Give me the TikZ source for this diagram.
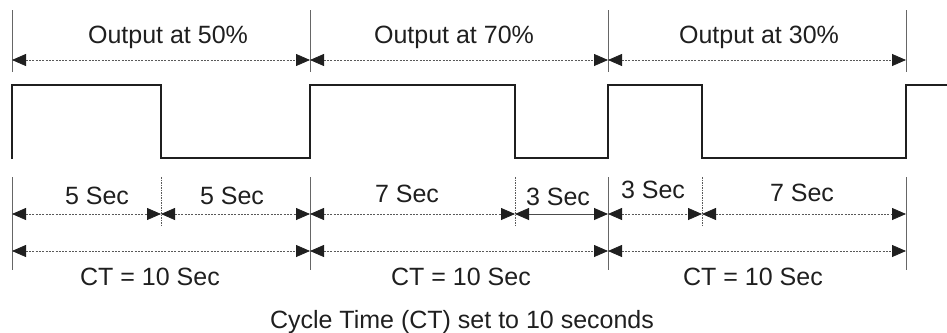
\documentclass[tikz,border=0pt]{standalone}
\usepackage{fontspec}
\setmainfont{Liberation Sans}
\usetikzlibrary{arrows.meta}
\begin{document}
\begin{tikzpicture}[x=1pt,y=-1pt,
  tickline/.style={line width=0.9pt, draw=black!60},
  midtick/.style={line width=0.8pt, draw=black!65, dash pattern=on 1.5pt off 1pt},
  dimline/.style={line width=0.8pt, draw=black!65, dash pattern=on 2pt off 1.3pt, {Triangle[length=14pt,width=12pt,color=black!88]}-{Triangle[length=14pt,width=12pt,color=black!88]}},
  soliddim/.style={line width=0.9pt, draw=black!70, {Triangle[length=14pt,width=12pt,color=black!88]}-{Triangle[length=14pt,width=12pt,color=black!88]}},
  wave/.style={line width=2.8pt, draw=black!88, line join=miter, line cap=butt},
  lbl/.style={font=\fontsize{25}{30}\selectfont, inner sep=0pt, anchor=base, text=black!88}]
\useasboundingbox (0,0) rectangle (947,332);

% ---- top tick lines and arrows
\foreach \x/\n in {12/a,310/b,608/c,906/d}{
  \coordinate (tt\n) at (\x,10);
  \coordinate (tb\n) at (\x,72);
  \coordinate (ta\n) at (\x,60);
  \draw[tickline] (tt\n) -- (tb\n);
}
\draw[dimline] (taa) -- (tab);
\draw[dimline] (tab) -- (tac);
\draw[dimline] (tac) -- (tad);
\node[lbl] (o50) at (168,43) {Output at 50\%};
\node[lbl] (o70) at (454,43) {Output at 70\%};
\node[lbl] (o30) at (759,43) {Output at 30\%};

% ---- waveform
\draw[wave] (12,159) -- (12,85) -- (161,85) -- (161,158) -- (310,158) -- (310,85)
  -- (515,85) -- (515,158) -- (608,158) -- (608,85) -- (702,85) -- (702,158)
  -- (906,158) -- (906,85) -- (947,85);

% ---- bottom tick lines
\foreach \x/\n in {12/a,310/b,608/c,906/d}{
  \coordinate (bt\n) at (\x,177);
  \coordinate (bb\n) at (\x,270);
  \coordinate (r1\n) at (\x,214);
  \coordinate (r2\n) at (\x,251);
  \draw[tickline] (bt\n) -- (bb\n);
}
\foreach \x/\n in {161/e,515/f,702/g}{
  \coordinate (mt\n) at (\x,177);
  \coordinate (mb\n) at (\x,226);
  \coordinate (r1\n) at (\x,214);
  \draw[midtick] (mt\n) -- (mb\n);
}

% ---- row 1
\draw[dimline] (r1a) -- (r1e);
\draw[dimline] (r1e) -- (r1b);
\draw[dimline] (r1b) -- (r1f);
\draw[soliddim] (r1f) -- (r1c);
\draw[dimline] (r1c) -- (r1g);
\draw[dimline] (r1g) -- (r1d);
\node[lbl] (s1) at (97,204) {5 Sec};
\node[lbl] (s2) at (232,204) {5 Sec};
\node[lbl] (s3) at (407,202) {7 Sec};
\node[lbl] (s4) at (558,205) {3 Sec};
\node[lbl] (s5) at (653,198) {3 Sec};
\node[lbl] (s6) at (802,201) {7 Sec};

% ---- row 2
\draw[dimline] (r2a) -- (r2b);
\draw[dimline] (r2b) -- (r2c);
\draw[dimline] (r2c) -- (r2d);
\node[lbl] (ct1) at (150,285) {CT = 10 Sec};
\node[lbl] (ct2) at (461,285) {CT = 10 Sec};
\node[lbl] (ct3) at (753,285) {CT = 10 Sec};

\node[lbl] (cap) at (462,328) {Cycle Time (CT) set to 10 seconds};
\end{tikzpicture}
\end{document}
